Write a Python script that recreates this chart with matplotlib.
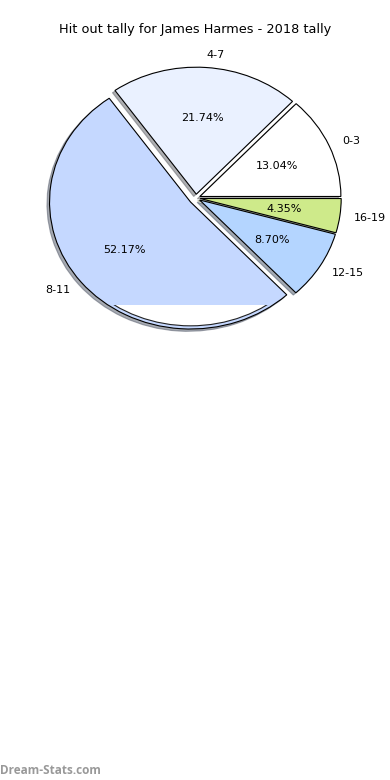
import matplotlib
matplotlib.use("Agg")
import matplotlib.pyplot as plt
from matplotlib.patches import Ellipse, Rectangle

plt.rcParams["font.family"] = ["DejaVu Sans"]

# 데이터
labels = ["0-3", "4-7", "8-11", "12-15", "16-19"]
counts = [3, 5, 12, 2, 1]
colors = ["#ffffff", "#eaf1ff", "#c5d8ff", "#b4d5ff", "#ceea8a"]
explode = [0.03, 0.03, 0.05, 0.03, 0.03]
title = "Hit out tally for James Harmes - 2018 tally"

fig = plt.figure(figsize=(3.9, 7.8), dpi=100)

# 파이 중심 (196,198)px, 가로 반경 141px, 세로 반경 127px
W, H = 390, 780
cx, cy, rx, ry = 196, 198, 141, 127
ax = fig.add_axes([(cx - 1.25 * rx) / W, (H - cy - 1.25 * ry) / H,
                   2.5 * rx / W, 2.5 * ry / H])

wedges, texts, autotexts = ax.pie(
    counts, labels=labels, colors=colors, explode=explode,
    autopct="%1.2f%%", startangle=0, labeldistance=1.1,
    shadow={"ox": -0.013, "oy": -0.013, "shade": 0.6},
    wedgeprops={"edgecolor": "black", "linewidth": 0.8},
    textprops={"fontsize": 8})
ax.set_aspect("auto")
ax.set_xlim(-1.25, 1.25)
ax.set_ylim(-1.25, 1.25)

# 8-11 조각 하단의 흰 영역
w = wedges[2]
c = w.center
inner = Ellipse(c, 2 * 0.975, 2 * 0.975, facecolor="white",
                edgecolor="#222222", linewidth=0.8, zorder=w.get_zorder() + 0.5,
                transform=ax.transData)
ax.add_patch(inner)
clip = Rectangle((-1.5, -1.5), 3.0, 1.5 - 0.843, transform=ax.transData)
inner.set_clip_path(clip)

fig.text(0.5, 1 - 30 / H, title, ha="center", va="center", fontsize=9.3)

fig.text(0.0, 1 - 770 / H, "Dream-Stats.com", ha="left", va="center",
         fontsize=8.5, color="#999999", fontweight="bold",
         family=["Open Sans", "DejaVu Sans"])

fig.savefig("out.png", dpi=100)
